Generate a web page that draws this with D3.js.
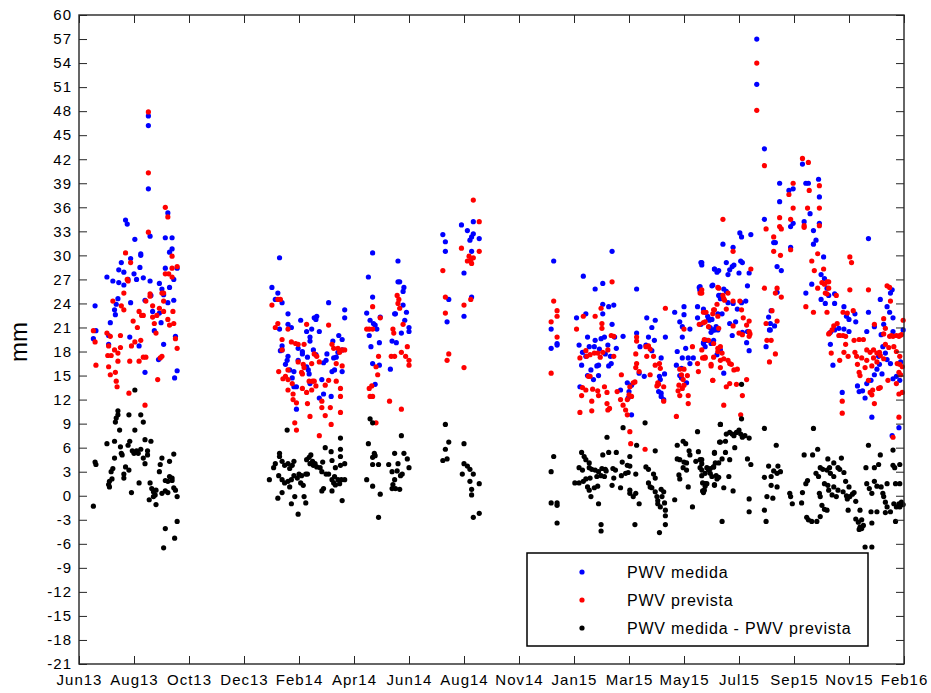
<!DOCTYPE html>
<html>
<head>
<meta charset="utf-8">
<script src="https://cdn.jsdelivr.net/npm/d3@7/dist/d3.min.js"></script>
<style>
  body { margin: 0; background: #fff; }
  svg text { font-family: "Liberation Sans", Arial, sans-serif; fill: #000; }
</style>
</head>
<body>
<svg id="chart" width="931" height="693"></svg>
<script>
"use strict";

// days are counted from 1 Jun 2013 (x axis runs to 1 Feb 2016, ticks every 65 days)
var startDate = new Date(2013, 5, 1),
  endDate = new Date(2016, 1, 1),
  tickStepDays = 65;

var xTickLabels = ["Jun13", "Aug13", "Oct13", "Dec13", "Feb14", "Apr14", "Jun14", "Aug14",
  "Nov14", "Jan15", "Mar15", "May15", "Jul15", "Sep15", "Nov15", "Feb16"];
var yTicks = [-21, -18, -15, -12, -9, -6, -3, 0, 3, 6, 9, 12, 15, 18, 21, 24, 27, 30,
  33, 36, 39, 42, 45, 48, 51, 54, 57, 60];

var seriesNames = ["PWV medida", "PWV prevista", "PWV medida - PWV prevista"];
var seriesColors = ["#0000ff", "#ff0000", "#000000"];

// PWV medida [day, mm]
var medida = [
  [82,47.4],[82,46.2],[82,38.3],[55,34.4],[57,33.9],[84,32.4],[66,32],[102,32.2],[110,32.2],[105,35.3],
  [110,30.8],[107,30.4],[73,30.2],[73,30],[61,29.6],[50,29.1],[102,28.4],[116,28.4],[47,28.2],[53,27.9],
  [33,27.3],[65,27.7],[72,28.5],[76,27.2],[84,26.8],[68,27],[40,26.8],[47,26.6],[53,26.3],[58,27],
  [95,26.5],[112,27],[98,25.8],[107,26],[85,25],[100,25.1],[105,24.1],[112,24.4],[78,24.4],[61,24.1],
  [44,23.9],[46,24.6],[19,23.7],[42,23.2],[87,23],[95,22.8],[43,22.6],[37,21.6],[97,21.6],[20,20.6],
  [89,20.6],[17,19.6],[60,19.8],[114,19.9],[35,18.9],[100,18.9],[71,18.7],[94,17],[78,15.4],[116,15.6],
  [113,14.7],[35,20],
  [237,29.7],[228,26],[235,25.3],[232,24.5],[240,24.1],[295,24.1],[314,23.2],[314,22.2],[247,22.7],[262,21.9],
  [278,22.2],[281,22.4],[280,22],[247,21.4],[251,21],[237,20.8],[269,20.5],[284,20.5],[275,20.8],[273,19.8],
  [273,19.3],[307,20],[311,19.5],[300,19.3],[240,18.7],[240,18.2],[238,18.1],[259,18.4],[264,18],[264,17.7],
  [247,17.4],[246,16.9],[270,17.3],[280,17.6],[277,18.2],[293,17.7],[304,17.3],[301,17.2],[311,18.2],[306,17.9],
  [259,16.9],[244,16.4],[289,16.6],[292,16.9],[249,15.7],[254,15.5],[269,16.1],[271,15.7],[299,15.5],[302,15.7],
  [311,15.5],[252,14.7],[273,14],[287,14.5],[254,13.6],[257,13.6],[289,12.7],[284,12.2],[298,12.4],[257,10.8],
  [272,15.2],
  [347,30.3],[377,29.3],[342,27.3],[377,26.7],[379,26.7],[384,26],[383,25.5],[347,24.8],[383,23.8],[340,22.8],
  [356,22.3],[344,21.9],[348,21.5],[350,21.3],[352,20.8],[373,22.7],[374,22.7],[387,22.9],[385,21.9],[381,20.3],
  [390,21],[390,20.5],[343,20],[355,19.1],[370,19.3],[375,19.1],[345,18.6],[347,16.5],[355,16.3],[368,15.8],
  [350,13.9],
  [466,34.2],[452,33.8],[459,33.1],[466,32.7],[464,32.3],[462,31.9],[473,32.1],[430,32.6],[433,31.7],[433,30.5],
  [464,30.5],[455,27.8],[437,24.5],[464,24.8],[455,22.4],[435,21.7],
  [561,29.3],[558,20.8],[558,18.4],[565,19],[565,18.8],
  [630,30.5],[596,27.4],[619,26.5],[610,25.8],[659,25.8],[588,22.2],[599,22.7],[619,23.9],[626,23.6],[632,23.8],
  [619,22.7],[671,22.2],[681,21.9],[677,21],[630,21.4],[659,20.3],[601,19.8],[610,19.4],[617,19.6],[621,19.8],
  [643,19.9],[633,19.8],[673,19.8],[680,19.4],[693,19.8],[591,18.8],[603,18.6],[609,18.6],[615,18.3],[635,18.4],
  [625,18.8],[663,18.6],[670,18.8],[677,18.1],[688,17.2],[595,17.9],[599,17.4],[622,17.7],[628,17.4],[594,16.3],
  [605,15.7],[612,16.2],[614,16.3],[626,16.2],[629,16.5],[662,15.3],[668,14.9],[686,14.9],[692,15.2],[687,14.5],
  [601,15],[608,14.5],[614,15],[592,13.6],[648,14.1],[653,13.8],[650,13],[649,12.2],[685,13],[688,12.4],
  [691,12],[688,12.8],[640,13.2],[653,10.1],
  [735,29.1],[736,28.8],[733,26],[734,25.6],[751,28.3],[754,27.9],[749,26.3],[758,25],[731,23.6],[740,22.9],
  [743,22.4],[744,22.1],[748,22],[715,23.6],[715,22.6],[704,22.9],[710,21.7],[713,21.1],[722,20.8],[731,22.2],
  [735,21.4],[746,21],[750,20.7],[755,20.7],[713,19.8],[717,18.4],[707,18],[742,19.4],[738,19.1],[740,18.6],
  [713,17.2],[720,17.2],[726,17.2],[722,16.5],[706,16.3],[712,15.9],[710,15],[712,14.7],[718,14.1],[758,18.2],
  [801,57],[801,51.35],[810,43.3],[855,41.4],[828,39],[859,39],[862,39],[874,39.5],[839,38.1],[844,38.3],
  [875,37.3],[828,36.7],[810,34.5],[864,35.2],[857,34.2],[875,34],[844,34],[841,33.6],[868,33.1],[781,32.8],
  [783,32.3],[794,32.6],[761,31.4],[821,31.6],[823,31.6],[871,31.9],[868,31.4],[841,31],[773,31],[880,29.8],
  [736,29.1],[765,29.1],[774,28.8],[772,28.6],[769,28.2],[782,29.3],[784,29.1],[825,28.6],[830,28.1],[933,32.1],
  [751,28.3],[756,28.1],[792,27.8],[780,27.8],[767,27.6],[877,27.6],[881,27.1],[884,25.9],[886,25],[893,25.2],
  [866,26.4],[748,26.2],[756,25],[758,24.6],[790,26.2],[825,25.4],[859,25.3],[877,24.5],[882,24],[893,24],
  [904,23.6],[961,25.7],[959,25.3],[947,24.5],[955,23.6],[958,22.9],[962,22.2],[933,22.9],[918,21.7],[907,22.4],
  [910,22],[917,22.7],[734,26.1],[734,25.7],[738,23.3],[762,25.8],[765,25.5],[773,24],[767,24.1],[778,23.3],
  [783,24.1],[788,24.3],[755,22.7],[760,22.7],[769,21.5],[776,21.7],[818,23.1],[815,22.3],[817,21.5],[822,21.2],
  [817,20.7],[751,20.7],[747,20.4],[753,21.1],[745,21.9],[893,20.7],[898,20.9],[888,20.4],[904,20.8],[910,20.5],
  [931,20.5],[940,21.1],[951,21.4],[974,20.7],[962,20.5],
  [738,19],[741,19.4],[747,19],[750,19.4],[754,17.6],[762,15.3],[789,19.1],[792,18.1],[812,18.6],[816,20.7],
  [772,20],[784,20.4],[790,20.5],[888,18.9],[891,16.3],[902,12.9],[948,20.1],[950,18.6],[953,17.8],[945,17.4],
  [946,16.4],[955,17],[959,16.5],[971,16.7],[920,13.7],[922,13],[926,13.1],[929,12.2],[931,14],[936,14.4],
  [940,15.1],[943,15.8],[949,15.2],[962,14.6],[966,14.9],[970,14.4],[937,9.8],[969,8.5],[961,7.5]
];

// PWV prevista [day, mm]
var prevista = [
  [82,47.9],[82,40.3],[82,32.9],[102,36],[105,34.8],[55,30.3],[110,29.9],[61,29.1],[116,28.6],[110,28.4],
  [102,27.7],[106,27.7],[110,27.3],[57,27],[58,26.8],[84,25.2],[84,24.9],[53,25.3],[98,25.3],[100,25.3],
  [40,24.3],[100,24.3],[79,24.3],[50,23.7],[87,23.7],[53,23.2],[95,23.4],[71,23],[100,23],[111,23],
  [74,22.5],[76,22.5],[87,22.3],[92,22.5],[64,21.8],[105,22],[112,21.5],[107,21.3],[69,21],[89,21.5],
  [17,20.6],[19,19.2],[33,20.3],[37,19.9],[91,20.3],[49,20],[114,19.6],[116,18.4],[73,19.4],[66,19.2],
  [62,18.7],[49,18.5],[35,18.7],[42,18.2],[46,17.8],[34,17.5],[38,17.5],[76,17.3],[79,17.3],[71,16.8],
  [60,16.8],[46,16.8],[20,16.3],[35,16.1],[96,17.2],[98,17.4],[93,14.5],[37,15.1],[43,15.4],[44,14.3],
  [45,13.6],[59,12.8],[78,11.3],
  [235,24.5],[238,24.5],[228,23.8],[235,21.5],[232,21],[247,20.8],[269,21.4],[295,21.3],[240,19.5],[240,18.2],
  [251,19.2],[256,19],[259,18.9],[266,18.9],[278,17.7],[281,17.4],[299,18.9],[301,18.4],[306,18.4],[308,17.9],
  [311,18.2],[314,18.2],[259,16.7],[265,16.4],[266,16],[275,16.5],[284,16.7],[304,16.5],[311,16.2],[236,15.5],
  [263,15.4],[264,15.2],[247,15.7],[241,14.6],[244,14.9],[247,14.5],[272,14.3],[276,14.3],[278,14.3],[295,14.4],
  [304,14.3],[252,14],[247,13.2],[264,13.4],[269,12.9],[275,13.2],[280,13.7],[291,13.8],[309,13.4],[253,12.7],
  [253,12],[257,11.6],[270,11.5],[287,11.8],[297,11],[287,11],[309,12.4],[309,10.4],[291,10],[273,9.9],
  [255,9.1],[257,8.2],[298,8.9],[284,7.5],
  [347,23.6],[356,22.2],[376,25],[378,24.5],[377,24],[379,23.4],[340,20.8],[343,20.8],[347,20.8],[371,20.8],
  [372,20.3],[383,21.4],[388,18.6],[381,17.9],[386,17.4],[390,16.9],[390,16.3],[373,17.4],[369,17.4],[354,17.4],
  [351,16.1],[353,15.1],[343,13.4],[346,13.7],[344,12.4],[347,12.4],[367,11.8],[381,10.8],[351,9.1],
  [466,36.9],[473,34.2],[452,30.9],[473,30.5],[466,29.7],[461,29.9],[463,29.4],[459,29.3],[464,29],[430,28.1],
  [433,24.8],[455,23.8],[463,24.5],[433,22.8],[437,17.7],[435,16.9],[455,16],
  [561,24.3],[565,23.1],[565,22.4],[558,21.7],[565,19.8],[558,15.3],
  [630,26.7],[617,23.4],[596,22.4],[610,22.4],[693,23.4],[618,21.5],[618,20.9],[588,20.8],[632,19.9],[629,20],
  [659,19.8],[659,19.3],[625,18.2],[670,18.6],[673,18.7],[675,18.3],[599,18.1],[609,17.8],[613,17.8],[619,17.9],
  [604,17.6],[592,17.2],[600,17.4],[616,17.3],[632,17.4],[658,17.7],[659,16.5],[671,17.4],[679,17.4],[681,16.3],
  [686,16.5],[687,15.9],[641,15.1],[662,15.5],[658,16],[602,14.9],[604,14.9],[675,15.1],[684,14.1],[683,13.7],
  [685,13.9],[691,13.6],[621,13.6],[613,13.1],[624,12.9],[595,13.5],[599,13.2],[607,13.3],[594,12.5],[655,14.1],
  [657,14.2],[651,13.6],[650,12.6],[648,12],[653,12.4],[640,12],[636,13],[606,11.8],[614,12.5],[624,11.5],
  [627,10.9],[625,10.7],[691,11.8],[643,11.3],[646,10.7],[648,10.1],[592,10.4],[606,10.6],[651,8],[652,6.5],
  [669,5.8],
  [734,25.3],[755,26],[741,22.9],[750,23.2],[754,23.9],[755,22.4],[733,21.4],[738,21.6],[744,21.1],[715,20.8],
  [725,18.6],[739,19.5],[744,19.4],[750,19],[755,18.4],[758,18.6],[740,17.3],[737,17.2],[750,17.3],[731,16.5],
  [732,15.5],[747,16.2],[710,15.8],[715,15.8],[719,15],[712,15.1],[714,14.5],[709,13.8],[715,13.8],[713,13.4],
  [708,13.1],[710,12.5],[720,12.5],[720,11.5],[749,14.4],[758,16],[706,9.9],
  [801,54],[801,48.1],[810,41.2],[855,42.1],[862,41.6],[844,39],[875,38.7],[839,37.6],[863,38.1],[844,35.9],
  [861,35.9],[875,35.9],[761,34.5],[828,34.7],[841,34.5],[857,33.7],[857,33.5],[875,33.7],[828,33.6],[830,33.3],
  [812,33.3],[821,32.3],[821,30.5],[829,30],[841,30.7],[773,30.5],[873,30.2],[866,29.3],[911,29.8],[913,29.1],
  [880,28.3],[869,28.1],[794,28.3],[884,26.7],[881,26.4],[878,26.6],[886,26.7],[873,25.9],[886,25.9],[882,25.3],
  [884,25.2],[895,25],[756,25.9],[761,25],[763,24.4],[767,25.3],[810,25.9],[825,25.9],[823,25.3],[830,24.8],
  [859,23.6],[868,22.9],[884,22.9],[911,25.7],[933,25.7],[955,26.2],[958,26],[959,24.3],[974,21.9],[903,22.9],
  [908,22.8],[915,23.1],[736,25.7],[736,25.3],[738,22.9],[762,24.6],[773,24.3],[765,23.3],[781,24.3],[783,23.2],
  [785,22.2],[751,23.2],[749,22.7],[773,21.2],[792,21.8],[789,21.3],[819,23.1],[825,21.8],[812,21.5],[756,20.9],
  [740,21.7],[892,21.2],[896,21.5],[890,20.7],[886,20.2],[899,20],[903,20],[940,21.4],[951,22.1],[953,20.9],
  [960,20],[966,20],[970,20],
  [736,18.2],[739,17.2],[740,17.2],[747,16.4],[749,14.4],[755,18],[760,17.8],[758,16.9],[762,17.1],[767,16.9],
  [769,16.5],[771,16.4],[774,15.7],[778,15.8],[777,13.9],[769,14],[765,13.6],[762,11.3],[784,12.5],[782,10.1],
  [789,14.5],[792,20.5],[792,19.9],[793,20.2],[813,19.4],[818,19.4],[823,17.7],[816,16.7],[780,20.3],[784,20.1],
  [887,20.3],[889,17.8],[898,20],[906,19.9],[906,18.9],[904,17.9],[909,17.4],[899,16.9],[902,11.8],[902,10.3],
  [916,19.4],[922,19.5],[927,19.5],[917,17.9],[919,17.4],[925,17.2],[931,18.2],[935,17.9],[939,18.2],[943,17.8],
  [946,17.9],[920,16.4],[922,15.4],[929,16],[931,16.9],[937,16.2],[939,17.2],[943,16.7],[947,17.5],[951,17.1],
  [951,20.2],[958,19.9],[962,19.9],[969,19.9],[972,20.1],[953,18.9],[957,18.5],[963,18.6],[966,18],[970,17.4],
  [967,16.5],[970,16.4],[973,16.1],[923,15],[933,14.4],[938,13.2],[935,12.9],[945,13.4],[947,13.5],[937,12.6],
  [940,11.5],[956,14.4],[966,14],[969,12.7],[973,12.9],[969,15.4],[971,15.1],[969,9.8],[962,7.3]
];

// PWV medida - PWV prevista [day, mm]
var diferenca = [
  [66,13.2],[46,10.6],[46,10.1],[44,9.7],[43,9.2],[59,10.1],[73,10.1],[76,9.2],[48,8.2],[66,8.2],
  [33,6.5],[42,6.8],[49,6.1],[58,6.3],[60,6.8],[78,7],[85,6.8],[50,5.3],[51,5.1],[63,5.6],
  [68,5.6],[73,5.8],[65,5.3],[70,5.3],[81,5.6],[81,5.1],[76,4.7],[42,4.7],[19,4.2],[20,3.9],
  [112,5.2],[98,4.7],[107,4.3],[96,3.9],[78,4],[55,3.6],[40,3.4],[38,3],[59,3.2],[53,2.7],
  [53,2.2],[95,3],[39,2.1],[36,1.8],[35,1.4],[36,1.1],[71,1.6],[84,1.6],[86,0.9],[88,0.5],
  [107,2.4],[110,2.2],[102,1.9],[105,1.8],[110,1.9],[112,1],[114,0.7],[102,0.6],[105,0.4],[98,0.3],
  [91,0.7],[90,0.1],[62,0.4],[88,-0.1],[116,-0.1],[83,-0.5],[91,-1.1],[17,-1.3],[116,-3.2],[102,-4.1],
  [113,-5.3],[100,-6.5],
  [246,8.2],[309,7.2],[291,6],[309,5.8],[237,5.3],[237,4.9],[272,4.8],[274,5.1],[298,5.5],[309,4.9],
  [232,4],[230,3.5],[240,4.3],[243,3.8],[247,4],[252,3.8],[254,4.3],[249,3.4],[269,4.5],[273,4],
  [277,3.8],[281,3.6],[276,4.3],[279,4],[285,3.5],[288,4.2],[299,4.4],[303,3.5],[309,3.8],[314,4],
  [225,2],[236,2.5],[240,2],[243,1.6],[247,1.8],[251,2],[254,2.5],[260,2.7],[258,2.2],[263,2.5],
  [268,2.7],[270,2.7],[262,1.6],[265,1.3],[249,1.1],[287,3],[292,2.7],[295,2.7],[299,2],[302,2.4],
  [306,2],[303,1.35],[310,2],[314,2],[308,1.5],[301,1.6],[240,0.4],[235,-0.3],[251,-1],[255,-0.1],
  [266,-0.1],[268,-0.9],[259,-2.3],[287,0.6],[289,0.9],[299,0.6],[311,-0.6],
  [344,9.6],[347,9.1],[342,6.5],[381,7.5],[349,5.3],[347,4.8],[350,5],[373,5.3],[384,5.3],[347,3.9],
  [354,3.9],[366,3.9],[377,4],[388,4.6],[390,3.5],[370,3],[376,3.1],[380,2.5],[382,2.7],[340,2],
  [373,2],[371,1.4],[347,1.2],[370,0.9],[374,0.9],[379,0.8],[356,0.2],[354,-2.7],
  [433,8.9],[437,6.7],[455,6.5],[433,5.8],[435,4.6],[430,4.4],[455,4],[459,3.7],[462,3.3],[466,2.7],
  [453,2.7],[462,1.8],[473,1.5],[464,0.8],[464,0.1],[473,-2.2],[466,-2.7],
  [561,4.9],[558,3],[558,-0.9],[565,-0.9],[565,-1.2],[565,-3.4],
  [669,9.1],[643,8.5],[624,7.3],[594,5.4],[597,4.9],[599,4.5],[603,4.1],[619,5.1],[626,5.4],[635,5.4],
  [681,5.6],[651,4.9],[659,6.3],[642,4.2],[648,3.8],[651,3.7],[591,3.5],[595,3.2],[603,3.5],[606,3.3],
  [610,3.2],[614,3],[618,3.4],[622,3.3],[631,3.4],[634,3.2],[670,3.6],[673,3.3],[679,2.7],[681,2.2],
  [586,1.6],[591,1.6],[596,1.8],[599,2.1],[604,2.2],[612,2.4],[617,2.5],[621,2.4],[623,3.1],[632,2.2],
  [641,2.5],[646,2.8],[649,2.9],[658,2.7],[601,1.1],[609,1],[613,1.2],[603,0.7],[605,-0.1],[614,-1],
  [630,1.3],[640,1],[651,0.7],[651,0.3],[655,-0.1],[658,0.3],[662,-1],[673,1.6],[675,1.1],[677,1],
  [681,0.5],[683,-0.1],[684,-0.6],[688,0.8],[691,0.5],[689,-0.1],[684,-1],[687,-1.4],[692,-0.9],[693,-1.8],
  [693,-2.5],[617,-3.6],[617,-4.4],[657,-3.6],[686,-4.6],[693,-3.6],[704,-0.5],[725,-1.4],
  [731,8],[714,6.8],[717,6.5],[707,6.3],[721,5.6],[722,5.1],[732,5.5],[736,4.5],[729,4.3],[718,4.1],
  [751,5.4],[707,4.6],[710,4.5],[715,4.2],[714,3.5],[718,3.2],[734,3.5],[736,3.2],[744,3.2],[750,3.6],
  [746,2.8],[748,2.4],[753,2.5],[754,2.1],[709,2.6],[710,2.1],[720,1.1],[737,1.6],[740,1.5],[739,0.7],
  [738,0.4],[751,1.3],[758,6.7],[758,8.9],
  [783,13.9],[783,9.6],[758,8.9],[810,8.4],[868,8.4],[765,7.7],[769,7.9],[772,7.7],[774,7.5],[777,7.9],
  [780,8.2],[782,7.7],[784,7.3],[787,7.5],[792,7.2],[764,6.8],[757,6.7],[775,6],[824,6.3],[873,5.8],
  [933,6.3],[962,5.7],[734,4.5],[736,4],[751,5.3],[742,3.5],[746,3.4],[750,3.6],[752,4.1],[756,4.1],
  [760,4.6],[764,5.4],[769,4.5],[790,4.6],[794,3.9],[857,5.1],[867,5.1],[885,4.6],[892,4.1],[901,4.7],
  [876,3.5],[879,3.3],[887,3.5],[897,3.5],[899,3.3],[947,5.1],[945,3.9],[962,3.8],[964,3.5],[970,3.9],
  [930,3.5],[940,3.5],[736,2.5],[740,2.8],[742,1.5],[740,1.2],[737,0.6],[751,1.4],[756,2.3],[762,1],
  [768,2.4],[773,0.6],[810,2.3],[818,2.4],[821,3.1],[825,2.8],[829,3],[826,3.7],[815,3.7],[818,1.3],
  [813,-0.1],[820,-0.3],[825,1.1],[840,0.3],[841,-0.1],[843,-1],[855,0.4],[854,-0.9],[861,1.9],[859,1.5],
  [792,-0.4],[792,-2],[810,-1.8],[812,-3.2],[760,-3.2],[860,-2.7],[862,-3],[866,-3.2],[872,-3.2],[876,-2.6],
  [871,2.8],[874,2.4],[884,3.2],[888,2.8],[892,2.4],[881,1.5],[885,1.3],[886,0.7],[890,0.1],[895,-0.1],
  [875,0.3],[876,-0.1],[878,-1.2],[881,-1.7],[884,-1.8],[892,1.1],[897,0.7],[903,0.5],[907,0],[908,-0.4],
  [911,-0.1],[914,0.2],[916,0.4],[918,-0.7],[904,2.9],[906,1.8],[910,1.1],[909,-1.8],[918,-2.9],[921,-3.3],
  [925,-3],[923,-3.9],[927,-3.7],[922,-4.2],[925,-4.1],[929,-6.4],[937,-6.4],[937,-3.4],[931,1.5],[934,0.9],
  [937,0.3],[940,1.8],[943,1.2],[948,1.1],[950,0.3],[951,-0.1],[955,1.5],[936,-2],[943,-2],[953,-0.8],
  [955,-1.4],[959,-2],[963,-1],[966,-1.4],[969,-1],[970,-1.4],[972,-0.8],[974,-1.1],[965,-3.2],[953,-2.1],
  [965,1.5],[970,1.5],[923,-1.8]
];

var margin = { top: 15, right: 27, bottom: 29, left: 79 },
  width = 931,
  height = 693,
  innerW = width - margin.left - margin.right,
  innerH = height - margin.top - margin.bottom;

var svg = d3.select("#chart");

var x = d3.scaleTime().domain([startDate, endDate]).range([0, innerW]);
var y = d3.scaleLinear().domain([-21, 60]).range([innerH, 0]);

var xTickDates = xTickLabels.map(function (_, i) {
  return d3.timeDay.offset(startDate, i * tickStepDays);
});

var g = svg.append("g").attr("transform", "translate(" + margin.left + "," + margin.top + ")");

function toPoints(arr) {
  return arr.map(function (d) {
    return { date: d3.timeDay.offset(startDate, d[0]), value: d[1] };
  });
}

[medida, prevista, diferenca].forEach(function (arr, i) {
  g.append("g")
    .attr("fill", seriesColors[i])
    .selectAll("circle")
    .data(toPoints(arr))
    .join("circle")
    .attr("cx", function (d) { return x(d.date); })
    .attr("cy", function (d) { return y(d.value); })
    .attr("r", 2.6);
});

// axes, ticks point inwards like the matlab box
var axisColor = "#262626";

var xBottom = g.append("g")
  .attr("transform", "translate(0," + innerH + ")")
  .call(d3.axisBottom(x).tickValues(xTickDates).tickSize(-8).tickPadding(10)
    .tickFormat(function (d, i) { return xTickLabels[i]; }));
var xTop = g.append("g")
  .call(d3.axisTop(x).tickValues(xTickDates).tickSize(-8).tickFormat(""));
var yLeft = g.append("g")
  .call(d3.axisLeft(y).tickValues(yTicks).tickSize(-8).tickPadding(7)
    .tickFormat(function (d) { return String(d); })); // plain hyphen minus, as in the original
var yRight = g.append("g")
  .attr("transform", "translate(" + innerW + ",0)")
  .call(d3.axisRight(y).tickValues(yTicks).tickSize(-8).tickFormat(""));

[xBottom, xTop, yLeft, yRight].forEach(function (ax) {
  ax.select(".domain").remove();
  ax.selectAll(".tick line").attr("stroke", axisColor).attr("stroke-width", 1);
  ax.selectAll(".tick text")
    .attr("font-size", 15)
    .attr("letter-spacing", "1px")
    .style("fill", "#000");
});

g.append("rect")
  .attr("width", innerW)
  .attr("height", innerH)
  .attr("fill", "none")
  .attr("stroke", axisColor)
  .attr("stroke-width", 1.4);

svg.append("text")
  .attr("transform", "translate(27,342) rotate(-90)")
  .attr("text-anchor", "middle")
  .attr("font-size", 24)
  .text("mm");

// legend
var legend = svg.append("g").attr("transform", "translate(527,553)");
legend.append("rect")
  .attr("width", 341)
  .attr("height", 93)
  .attr("fill", "#fff")
  .attr("stroke", "#000")
  .attr("stroke-width", 1.5);

var rows = legend.selectAll("g.row")
  .data(seriesNames)
  .join("g")
  .attr("class", "row")
  .attr("transform", function (d, i) { return "translate(0," + (19 + i * 28) + ")"; });
rows.append("circle")
  .attr("cx", 55)
  .attr("r", 2.6)
  .attr("fill", function (d, i) { return seriesColors[i]; });
rows.append("text")
  .attr("x", 100)
  .attr("dy", "0.36em")
  .attr("font-size", 16)
  .attr("letter-spacing", "0.8px")
  .text(function (d) { return d; });
</script>
</body>
</html>
